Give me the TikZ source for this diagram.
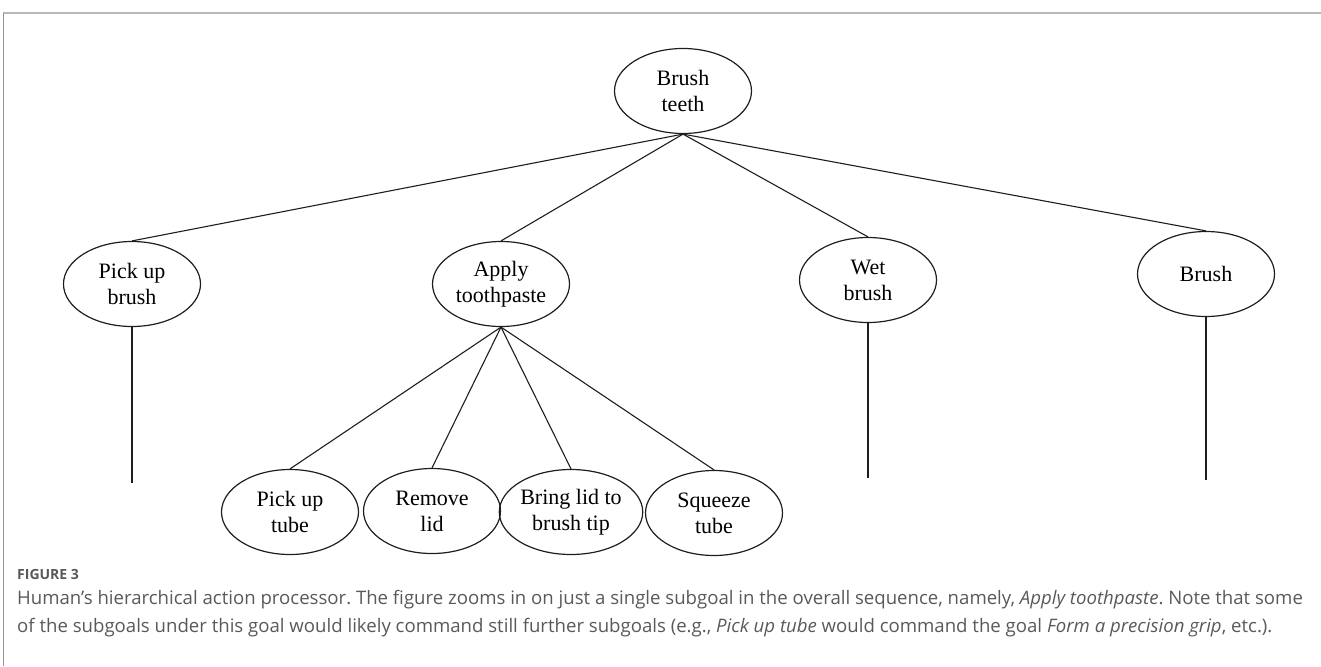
\documentclass[tikz,border=0pt]{standalone}
\usepackage{fontspec}
\setmainfont{Liberation Serif}
\newfontfamily\capfont{Open Sans}
\usetikzlibrary{shapes.geometric}
\definecolor{linecol}{HTML}{1E1E1E}
\definecolor{capgray}{HTML}{58595B}
\definecolor{framegray}{HTML}{B8B8B8}
\frenchspacing
\begin{document}
\begin{tikzpicture}[x=1pt,y=-1pt,
  goal/.style={ellipse, draw=linecol, line width=1.2pt, minimum width=137pt,
    minimum height=85pt, inner sep=0pt, align=center,
    font=\fontsize{22}{26}\selectfont},
  link/.style={draw=linecol, line width=1.1pt},
  captext/.style={anchor=base west, inner sep=0pt, text=capgray,
    font=\capfont\fontsize{18.6}{22}\selectfont}]
\useasboundingbox (0,0) rectangle (1321,666);

% frame rules
\draw[framegray, line width=2pt] (3,13) -- (1321,13);
\draw[framegray!80!black, line width=0.9pt] (3,13) -- (3,666);

% top goal
\node[goal] (top) at (683,91) {Brush\\teeth};

% first-level subgoals
\node[goal] (pb) at (132,284) {Pick up\\brush};
\node[goal] (at) at (501,284) {Apply\\toothpaste};
\node[goal] (wb) at (868,280) {Wet\\brush};
\node[goal] (br) at (1206,274) {Brush};

% second-level subgoals under "Apply toothpaste"
\node[goal] (pt) at (290,512) {Pick up\\tube};
\node[goal] (rl) at (432,511) {Remove\\lid};
\node[goal] (bl) at (571,512) {Bring lid to\\brush tip};
\node[goal] (sq) at (714,513) {Squeeze\\tube};

% open-ended branches
\coordinate (pbend) at (132,483);
\coordinate (wbend) at (868,478);
\coordinate (brend) at (1206,480);

\foreach \n in {pb,at,wb,br} \draw[link] (top.south) -- (\n.north);
\foreach \n in {pt,rl,bl,sq} \draw[link] (at.south) -- (\n.north);
\draw[link] (pb.south) -- (pbend);
\draw[link] (wb.south) -- (wbend);
\draw[link] (br.south) -- (brend);

% caption
\node[captext, font=\capfont\bfseries\fontsize{14}{16}\selectfont] (fig) at (17,579) {FIGURE 3};
\node[captext] (cap1) at (17,604) {Human’s hierarchical action processor. The figure zooms in on just a single subgoal in the overall sequence, namely, \textit{Apply toothpaste}. Note that some};
\node[captext] (cap2) at (17,632) {of the subgoals under this goal would likely command still further subgoals (e.g., \textit{Pick up tube} would command the goal \textit{Form a precision grip}, etc.).};
\end{tikzpicture}
\end{document}
